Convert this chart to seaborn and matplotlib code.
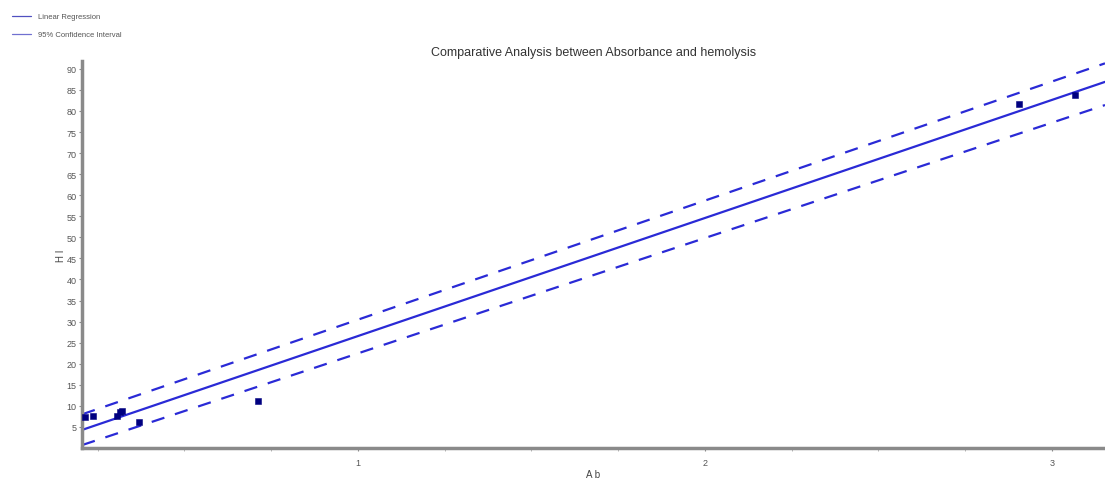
import numpy as np
import pandas as pd
import matplotlib
matplotlib.use("Agg")
import matplotlib.pyplot as plt
from matplotlib.ticker import MultipleLocator
import seaborn as sns

# measured points (absorbance vs hemolysis)
absorbance = [0.213, 0.237, 0.306, 0.314, 0.319, 0.370, 0.713, 2.906, 3.066]
hemolysis = [7.3, 7.5, 7.7, 8.6, 8.9, 6.1, 11.1, 81.7, 83.7]

# regression line and 95% band, read at the ends of the axis
fit_x = [0.205, 3.153]
fit_y = [4.3, 86.9]
ci_upper = [8.0, 91.3]
ci_lower = [0.7, 81.4]

sns.set_style("white")
plt.rcParams['font.family'] = ['Liberation Sans', 'DejaVu Sans']

fig = plt.figure(figsize=(11.05, 4.81), dpi=100)
ax = fig.add_axes([0.0742, 0.0665, 0.9258, 0.805])

line_color = '#2a2ad6'
pts = pd.DataFrame({'Ab': absorbance, 'HI': hemolysis})
fit = pd.DataFrame({'x': fit_x, 'y': fit_y, 'up': ci_upper, 'lo': ci_lower})

sns.lineplot(data=fit, x='x', y='y', ax=ax, color=line_color, lw=1.6)
sns.lineplot(data=fit, x='x', y='up', ax=ax, color=line_color, lw=1.6,
             linestyle=(0, (6, 5)))
sns.lineplot(data=fit, x='x', y='lo', ax=ax, color=line_color, lw=1.6,
             linestyle=(0, (6, 5)))
sns.scatterplot(data=pts, x='Ab', y='HI', ax=ax, marker='s', s=22,
                color='#000080', edgecolor='#000080', zorder=5)

ax.set_xlim(0.2046, 3.153)
ax.set_ylim(0, 91.9)
ax.set_xticks([1, 2, 3])
ax.xaxis.set_minor_locator(MultipleLocator(0.25))
ax.set_yticks(np.arange(5, 91, 5))

for side in ['top', 'right']:
    ax.spines[side].set_visible(False)
for side in ['left', 'bottom']:
    ax.spines[side].set_color('#8a8a8a')
    ax.spines[side].set_linewidth(2.5)

ax.tick_params(axis='both', which='major', labelsize=6.5, colors='#8a8a8a',
               labelcolor='#555555', length=2.5, width=0.8, direction='out')
ax.tick_params(axis='y', which='major', pad=1.5)
ax.tick_params(axis='x', which='major', pad=5)
ax.tick_params(axis='x', which='minor', length=2, width=0.6, colors='#aaaaaa',
               bottom=True)
ax.tick_params(axis='both', which='major', left=True, bottom=True)

ax.set_xlabel('A b', fontsize=7, color='#444444', labelpad=1)
ax.set_ylabel('H I', fontsize=7, color='#444444')
ax.yaxis.set_label_coords(-0.016, 0.5)
ax.set_title('Comparative Analysis between Absorbance and hemolysis',
             fontsize=9, color='#333333', pad=4)

handles = [plt.Line2D([], [], color='#5050c0', lw=0.9),
           plt.Line2D([], [], color='#7070d0', lw=0.9)]
fig.legend(handles, ['Linear Regression', '95% Confidence Interval'],
           loc='upper left', bbox_to_anchor=(0.005, 0.985), frameon=False,
           fontsize=5.5, handlelength=2.5, labelcolor='#555555',
           labelspacing=1.4)

fig.savefig('out.png', dpi=100)
